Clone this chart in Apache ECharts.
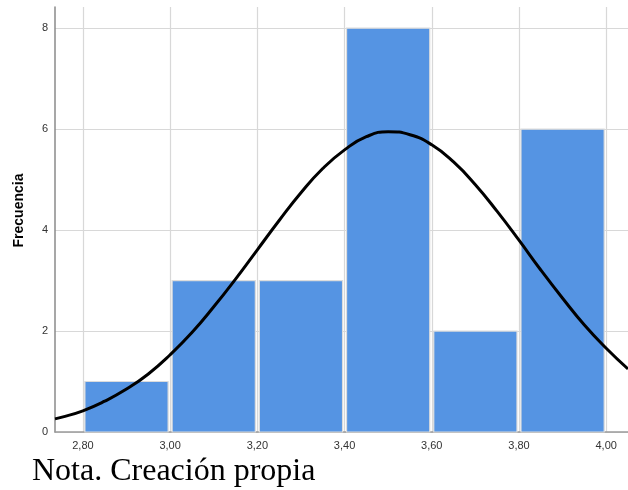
<!DOCTYPE html>
<html>
<head>
<meta charset="utf-8">
<script src="https://cdn.jsdelivr.net/npm/echarts@6/dist/echarts.min.js"></script>
<style>
html,body{margin:0;padding:0;background:#fff;}
#chart{width:628px;height:490px;}
</style>
</head>
<body>
<div id="chart"></div>
<script>
// Histogram bins (lower edge, upper edge) and frequencies
const binLower = [2.80, 3.00, 3.20, 3.40, 3.60, 3.80];
const binUpper = [3.00, 3.20, 3.40, 3.60, 3.80, 4.00];
const frequencies = [1, 3, 3, 8, 2, 6];

// Normal curve points
const curveX = [2.736, 2.75, 2.80, 2.85, 2.90, 2.95, 3.00, 3.05, 3.10, 3.15, 3.20, 3.25, 3.30, 3.35, 3.40, 3.45, 3.50, 3.55, 3.60, 3.65, 3.70, 3.75, 3.80, 3.85, 3.90, 3.95, 4.00, 4.05];
const curveY = [0.26, 0.29, 0.42, 0.61, 0.85, 1.15, 1.53, 1.97, 2.48, 3.03, 3.61, 4.19, 4.74, 5.22, 5.59, 5.85, 5.95, 5.89, 5.69, 5.35, 4.90, 4.37, 3.80, 3.21, 2.65, 2.12, 1.66, 1.25];

const xTickLabels = ['2,80', '3,00', '3,20', '3,40', '3,60', '3,80', '4,00'];
const yTickValues = [0, 2, 4, 6, 8];

const xMin = 2.736, xMax = 4.05, yMin = 0, yMax = 8.42;

const histData = binLower.map((lo, i) => [lo, binUpper[i], frequencies[i]]);
const curveData = curveX.map((x, i) => [x, curveY[i]]);

function fmtX(v) {
  const s = v.toFixed(2).replace('.', ',');
  return xTickLabels.indexOf(s) >= 0 && Math.abs(v * 5 - Math.round(v * 5)) < 1e-6 ? s : '';
}
function fmtY(v) {
  return yTickValues.indexOf(Math.round(v * 1000) / 1000) >= 0 ? String(v) : '';
}

const G = '#d8d8d8', T = 'rgba(0,0,0,0)';

const chart = echarts.init(document.getElementById('chart'), null, {renderer: 'canvas'});
chart.setOption({
  animation: false,
  backgroundColor: '#ffffff',
  title: {
    text: 'Nota. Creación propia',
    left: 27,
    top: 451,
    textStyle: {fontFamily: 'Liberation Serif', fontSize: 32, fontWeight: 'normal', color: '#000'}
  },
  grid: {left: 55, right: 0, top: 7, bottom: 58, containLabel: false, outerBoundsMode: 'none'},
  xAxis: {
    type: 'value',
    min: xMin, max: xMax,
    splitNumber: 6,
    axisLine: {show: true, lineStyle: {color: '#9a9a9a', width: 1.5}},
    axisTick: {show: false},
    axisLabel: {formatter: fmtX, color: '#333', fontSize: 11, fontFamily: 'Liberation Sans', margin: 8, showMinLabel: true, showMaxLabel: true},
    splitLine: {show: true, lineStyle: {color: [T, G, G, G, G, G, G, G, T], width: 1.2}}
  },
  yAxis: {
    type: 'value',
    min: yMin, max: yMax,
    interval: 2,
    name: 'Frecuencia',
    nameLocation: 'middle',
    nameGap: 29,
    nameTextStyle: {fontFamily: 'Liberation Sans', fontSize: 14, fontWeight: 'bold', color: '#000', padding: [0, 0, 0, 18]},
    axisLine: {show: true, lineStyle: {color: '#8a8a8a', width: 1.5}},
    axisTick: {show: false},
    axisLabel: {formatter: fmtY, color: '#333', fontSize: 11, fontFamily: 'Liberation Sans', margin: 7},
    splitLine: {show: true, lineStyle: {color: [G, G, G, G, G, T], width: 1.2}}
  },
  series: [
    {
      type: 'custom',
      data: histData,
      encode: {x: [0, 1], y: 2},
      renderItem: function (params, api) {
        const p0 = api.coord([api.value(0), api.value(2)]);
        const p1 = api.coord([api.value(1), 0]);
        return {
          type: 'rect',
          shape: {x: p0[0] + 2, y: p0[1], width: p1[0] - p0[0] - 4, height: p1[1] - p0[1]},
          style: {fill: '#5594e3', stroke: '#dcdcdc', lineWidth: 1.2}
        };
      },
      z: 2
    },
    {
      type: 'line',
      data: curveData,
      smooth: true,
      showSymbol: false,
      lineStyle: {color: '#000', width: 3},
      z: 3
    }
  ]
});
</script>
</body>
</html>
